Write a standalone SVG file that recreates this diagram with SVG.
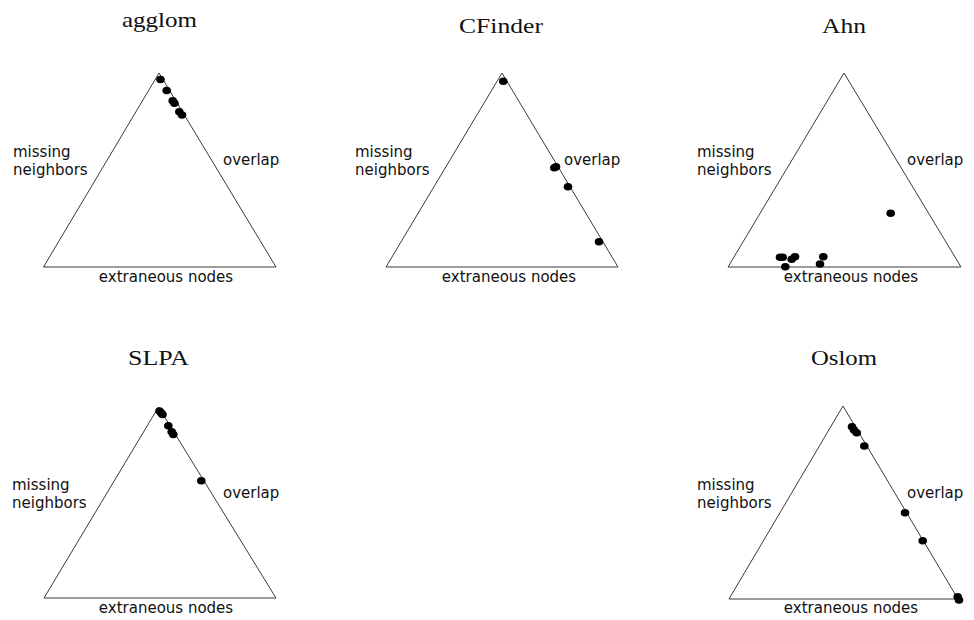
<svg xmlns="http://www.w3.org/2000/svg" width="974" height="620" viewBox="0 0 974 620">
  <style>
    .tri { fill: none; stroke: #3a3a3a; stroke-width: 1; stroke-linejoin: miter; }
    .dot { fill: #000; }
    .title { font-family: "Liberation Serif", "DejaVu Serif", serif; font-size: 21px; fill: #111; text-anchor: middle; }
    .lbl { font-family: "DejaVu Sans", "Liberation Sans", sans-serif; font-size: 15px; fill: #111; }
    .mid { text-anchor: middle; }
  </style>
  <rect width="974" height="620" fill="#fff"/>

  <!-- ternary panel: agglom -->
  <g id="panel-agglom">
    <text class="title" x="159.5" y="27" textLength="75" lengthAdjust="spacingAndGlyphs">agglom</text>
    <polygon class="tri" points="159,73 43.5,267 276,267"/>
    <text class="lbl" x="13" y="157">missing</text>
    <text class="lbl" x="13" y="175">neighbors</text>
    <text class="lbl" x="223" y="165">overlap</text>
    <text class="lbl mid" x="166" y="282">extraneous nodes</text>
    <g>
      <ellipse class="dot" cx="160.5" cy="79.5" rx="4.3" ry="3.8"/>
      <ellipse class="dot" cx="166.7" cy="90.5" rx="4.3" ry="3.8"/>
      <ellipse class="dot" cx="172.7" cy="100.7" rx="4.3" ry="3.8"/>
      <ellipse class="dot" cx="174.5" cy="103.3" rx="4.3" ry="3.8"/>
      <ellipse class="dot" cx="179.3" cy="111.7" rx="4.3" ry="3.8"/>
      <ellipse class="dot" cx="182" cy="115" rx="4.3" ry="3.8"/>
    </g>
  </g>

  <!-- ternary panel: CFinder -->
  <g id="panel-cfinder">
    <text class="title" x="501" y="33" textLength="84" lengthAdjust="spacingAndGlyphs">CFinder</text>
    <polygon class="tri" points="502,73 386,267 618,267"/>
    <text class="lbl" x="355" y="157">missing</text>
    <text class="lbl" x="355" y="175">neighbors</text>
    <text class="lbl" x="564" y="165">overlap</text>
    <text class="lbl mid" x="509" y="282">extraneous nodes</text>
    <g>
      <ellipse class="dot" cx="503.3" cy="81.3" rx="4.3" ry="3.8"/>
      <ellipse class="dot" cx="554.3" cy="167.7" rx="4.3" ry="3.8"/>
      <ellipse class="dot" cx="556" cy="166.7" rx="4.3" ry="3.8"/>
      <ellipse class="dot" cx="568" cy="186.7" rx="4.3" ry="3.8"/>
      <ellipse class="dot" cx="599" cy="241.7" rx="4.3" ry="3.8"/>
    </g>
  </g>

  <!-- ternary panel: Ahn -->
  <g id="panel-ahn">
    <text class="title" x="844" y="33" textLength="44" lengthAdjust="spacingAndGlyphs">Ahn</text>
    <polygon class="tri" points="844,73 728,267 961,267"/>
    <text class="lbl" x="697" y="157">missing</text>
    <text class="lbl" x="697" y="175">neighbors</text>
    <text class="lbl" x="907" y="165">overlap</text>
    <text class="lbl mid" x="851" y="282">extraneous nodes</text>
    <g>
      <ellipse class="dot" cx="890.7" cy="213.3" rx="4.3" ry="3.8"/>
      <ellipse class="dot" cx="780" cy="257.3" rx="4.3" ry="3.8"/>
      <ellipse class="dot" cx="782.7" cy="257.3" rx="4.3" ry="3.8"/>
      <ellipse class="dot" cx="791.7" cy="259.3" rx="4.3" ry="3.8"/>
      <ellipse class="dot" cx="795" cy="256.7" rx="4.3" ry="3.8"/>
      <ellipse class="dot" cx="785.3" cy="266.7" rx="4.3" ry="3.8"/>
      <ellipse class="dot" cx="823.3" cy="256.7" rx="4.3" ry="3.8"/>
      <ellipse class="dot" cx="820" cy="264" rx="4.3" ry="3.8"/>
    </g>
  </g>

  <!-- ternary panel: SLPA -->
  <g id="panel-slpa">
    <text class="title" x="158.5" y="365" textLength="61" lengthAdjust="spacingAndGlyphs">SLPA</text>
    <polygon class="tri" points="158.5,407 44,598 276,598"/>
    <text class="lbl" x="12" y="490">missing</text>
    <text class="lbl" x="12" y="508">neighbors</text>
    <text class="lbl" x="223" y="498">overlap</text>
    <text class="lbl mid" x="166" y="613">extraneous nodes</text>
    <g>
      <ellipse class="dot" cx="159.5" cy="411" rx="4.3" ry="3.8"/>
      <ellipse class="dot" cx="161.3" cy="413" rx="4.3" ry="3.8"/>
      <ellipse class="dot" cx="162.5" cy="414.5" rx="4.3" ry="3.8"/>
      <ellipse class="dot" cx="168.3" cy="425.7" rx="4.3" ry="3.8"/>
      <ellipse class="dot" cx="171.7" cy="431.7" rx="4.3" ry="3.8"/>
      <ellipse class="dot" cx="173.3" cy="434.5" rx="4.3" ry="3.8"/>
      <ellipse class="dot" cx="201.3" cy="480.7" rx="4.3" ry="3.8"/>
    </g>
  </g>

  <!-- ternary panel: Oslom -->
  <g id="panel-oslom">
    <text class="title" x="844" y="365" textLength="66" lengthAdjust="spacingAndGlyphs">Oslom</text>
    <polygon class="tri" points="843,406 729,599 958,599"/>
    <text class="lbl" x="697" y="490">missing</text>
    <text class="lbl" x="697" y="508">neighbors</text>
    <text class="lbl" x="907" y="498">overlap</text>
    <text class="lbl mid" x="851" y="613">extraneous nodes</text>
    <g>
      <ellipse class="dot" cx="852" cy="426.7" rx="4.3" ry="3.8"/>
      <ellipse class="dot" cx="854" cy="430" rx="4.3" ry="3.8"/>
      <ellipse class="dot" cx="856.7" cy="432.7" rx="4.3" ry="3.8"/>
      <ellipse class="dot" cx="864.3" cy="446" rx="4.3" ry="3.8"/>
      <ellipse class="dot" cx="905" cy="512.7" rx="4.3" ry="3.8"/>
      <ellipse class="dot" cx="922.7" cy="540.7" rx="4.3" ry="3.8"/>
      <ellipse class="dot" cx="957.7" cy="596.7" rx="4.3" ry="3.8"/>
      <ellipse class="dot" cx="959" cy="600" rx="4.3" ry="3.8"/>
    </g>
  </g>
</svg>
